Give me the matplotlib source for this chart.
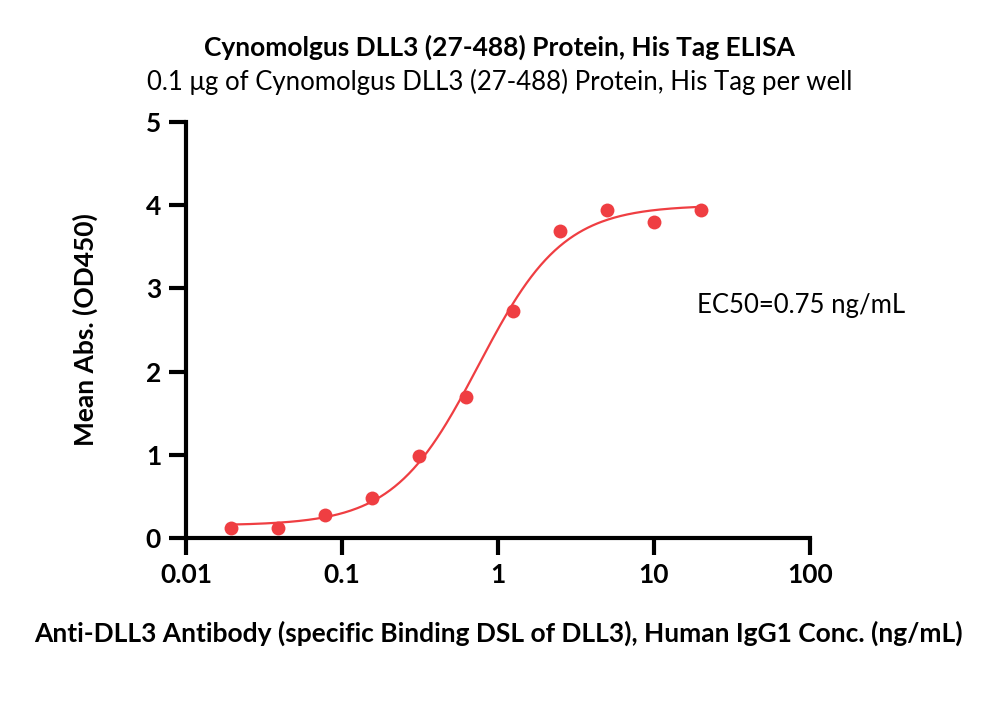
import numpy as np
import matplotlib.pyplot as plt

plt.rcParams['font.family'] = ['Lato', 'DejaVu Sans']

conc = [0.01953, 0.03906, 0.07813, 0.1563, 0.3125, 0.625, 1.25, 2.5, 5, 10, 20]
od450 = [0.12, 0.12, 0.28, 0.48, 0.99, 1.70, 2.73, 3.69, 3.94, 3.80, 3.94]

# 4PL fit parameters
bottom, top, ec50, hill = 0.15, 4.0, 0.75, 1.6

red = '#ef3e42'

fig = plt.figure(figsize=(10, 7.15), dpi=100)
ax = fig.add_axes([0.186, 0.2476, 0.624, 0.5818])

xs = np.logspace(np.log10(conc[0]), np.log10(conc[-1]), 300)
ys = bottom + (top - bottom) / (1 + (ec50 / xs) ** hill)
ax.plot(xs, ys, color=red, lw=1.6)
ax.plot(conc, od450, 'o', color=red, ms=10, mec='none')

ax.set_xscale('log')
ax.set_xlim(0.01, 100)
ax.set_ylim(0, 5)
ax.set_xticks([0.01, 0.1, 1, 10, 100])
ax.set_xticklabels(['0.01', '0.1', '1', '10', '100'])
ax.set_yticks([0, 1, 2, 3, 4, 5])
ax.minorticks_off()
for s in ['top', 'right']:
    ax.spines[s].set_visible(False)
for s in ['left', 'bottom']:
    ax.spines[s].set_linewidth(3)
ax.tick_params(width=3, length=12, labelsize=19, pad=6)
for lbl in ax.get_xticklabels() + ax.get_yticklabels():
    lbl.set_fontweight('bold')

ax.set_ylabel('Mean Abs. (OD450)', fontsize=19, fontweight='bold', labelpad=34)
ax.set_xlabel('Anti-DLL3 Antibody (specific Binding DSL of DLL3), Human IgG1 Conc. (ng/mL)',
              fontsize=19, fontweight='bold', labelpad=24)

ax.text(18.9, 2.8, 'EC50=0.75 ng/mL', fontsize=18.5, va='center', ha='left')

fig.text(0.5, 0.934, 'Cynomolgus DLL3 (27-488) Protein, His Tag ELISA',
         ha='center', va='center', fontsize=19, fontweight='bold')
fig.text(0.5, 0.885, '0.1 μg of Cynomolgus DLL3 (27-488) Protein, His Tag per well',
         ha='center', va='center', fontsize=18.5)

fig.savefig('out.png', dpi=100)
